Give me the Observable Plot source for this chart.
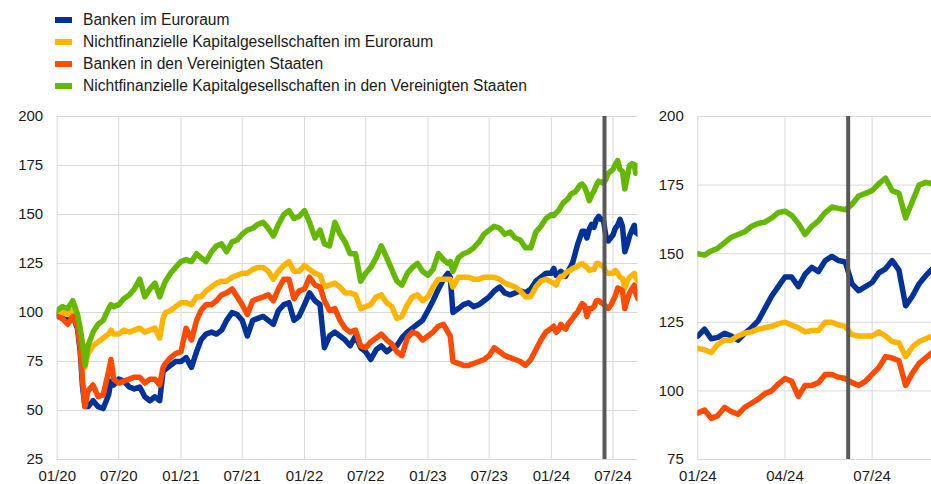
<!DOCTYPE html>
<html><head><meta charset="utf-8">
<script src="https://cdn.jsdelivr.net/npm/d3@7"></script>
<script src="https://cdn.jsdelivr.net/npm/@observablehq/plot@0.6"></script>
<style>
body{margin:0;background:#fff;font-family:Arial,"Liberation Sans",sans-serif;}
#wrap{position:relative;width:931px;height:484px;overflow:hidden;background:#fff;}
#legend{position:absolute;left:55px;top:8.5px;}
.row{height:22px;display:flex;align-items:center;font-size:15.6px;color:#1a1a1a;white-space:nowrap;}
.sw{width:17px;height:6px;margin-right:11px;flex:none;}
#left{position:absolute;left:0;top:100px;}
#right{position:absolute;left:645px;top:100px;}
</style></head><body>
<div id="wrap"><div id="legend"></div><div id="left"></div><div id="right"></div></div>
<script>
// ---- data ----
const seriesNames = [
  "Banken im Euroraum",
  "Nichtfinanzielle Kapitalgesellschaften im Euroraum",
  "Banken in den Vereinigten Staaten",
  "Nichtfinanzielle Kapitalgesellschaften in den Vereinigten Staaten"
];
const seriesColors = ["#003299", "#FFB400", "#FF4B00", "#65B800"];

const dates = [
  "2020-01-01","2020-01-16","2020-02-01","2020-02-16","2020-03-01","2020-03-09","2020-03-16","2020-03-23","2020-04-01","2020-04-16",
  "2020-05-01","2020-05-16","2020-06-01","2020-06-08","2020-06-16","2020-07-01","2020-07-16","2020-08-01","2020-08-16","2020-09-01",
  "2020-09-16","2020-10-01","2020-10-16","2020-10-30","2020-11-09","2020-11-16","2020-12-01","2020-12-16",
  "2021-01-01","2021-01-16","2021-02-01","2021-02-16","2021-03-01","2021-03-16","2021-04-01","2021-04-16","2021-05-01","2021-05-16",
  "2021-06-01","2021-06-16","2021-07-01","2021-07-16","2021-08-01","2021-08-16","2021-09-01","2021-09-16","2021-10-01","2021-10-16",
  "2021-11-01","2021-11-16","2021-12-01","2021-12-16",
  "2022-01-01","2022-01-16","2022-02-01","2022-02-16","2022-03-01","2022-03-16","2022-04-01","2022-04-16","2022-05-01","2022-05-16",
  "2022-06-01","2022-06-16","2022-07-01","2022-07-16","2022-08-01","2022-08-16","2022-09-01","2022-09-16","2022-10-01","2022-10-16",
  "2022-11-01","2022-11-16","2022-12-01","2022-12-16",
  "2023-01-01","2023-01-16","2023-02-01","2023-02-16","2023-03-01","2023-03-08","2023-03-16","2023-04-01","2023-04-16","2023-05-01",
  "2023-05-16","2023-06-01","2023-06-16","2023-07-01","2023-07-16","2023-08-01","2023-08-16","2023-09-01","2023-09-16","2023-10-01",
  "2023-10-16","2023-11-01","2023-11-16","2023-12-01","2023-12-16",
  "2024-01-01","2024-01-08","2024-01-15","2024-01-22","2024-01-29","2024-02-05","2024-02-12","2024-02-19","2024-02-26","2024-03-04",
  "2024-03-11","2024-03-18","2024-03-25","2024-04-01","2024-04-08","2024-04-15","2024-04-22","2024-04-29","2024-05-06","2024-05-13",
  "2024-05-20","2024-05-27","2024-06-03","2024-06-10","2024-06-17","2024-06-24","2024-07-01","2024-07-08","2024-07-15","2024-07-22",
  "2024-07-29","2024-08-05","2024-08-12","2024-08-19","2024-08-26","2024-09-02","2024-09-06","2024-09-13"
];

const banksEA = [
  99,97,96,98,92,80,62,52,52,55, 52,51,58,65,63,66,65,62,61,62, 57,55,57,55,70,71,73,75,
  75,77,72,80,86,89,90,89,91,96, 100,99,96,88,96,97,98,96,94,101, 104,105,96,98,
  104,110,106,104,82,88,90,88,86,83, 88,82,80,76,81,83,80,82,83,87, 90,92,94,96,
  101,106,112,117,120,118,100,102,104,105, 103,104,106,108,111,113,110,109,110,111, 110,112,116,118,120,
  120,122.5,119,119.5,121,120,118.5,121,123,125.5, 130,134.5,138,141.5,141.5,138,142.5,145,143.5,147.5,
  149,147.5,147,139,136.5,138,139.5,143,144.5,147.5, 144,131,134.5,139,142,144.5,141,140
];
const nfcEA = [
  100,100,99,101,96,88,78,72,79,83, 85,87,89,91,89,89,91,90,91,92, 90,91,92,87,97,100,101,103,
  105,105,104,108,108,111,113,115,116,116, 118,119,120,120,122,123,123,121,117,121, 124,126,121,121,
  124,122,120,119,113,114,115,113,110,110, 109,102,103,104,108,109,105,103,97,98, 104,108,109,106,
  108,113,117,117,117,117,113,118,118,118, 117,117,118,118,118,117,115,114,113,111, 108,108,113,116,117,
  115.5,115,114,117,118.5,118.5,120,121,121.5,122.5, 123,123.5,124.5,125,124,123,121.5,122,122,125,
  125,124,123.5,120.5,120,120,120,121.5,120,118, 117.5,112.5,116,118,119,120,118,116
];
const banksUS = [
  98,97,94,98,93,82,65,52,60,63, 57,58,70,76,66,64,65,66,67,67, 64,66,66,63,72,74,77,79,
  80,92,86,96,101,104,104,106,109,110, 112,108,104,99,106,107,108,109,106,112, 117,117,107,111,
  112,118,114,113,106,101,102,96,92,90, 91,83,82,85,87,89,86,84,80,78, 87,90,89,86,
  88,90,93,94,90,88,75,74,73,73, 74,75,76,78,82,80,78,77,76,75, 73,76,81,86,90,
  92,93,90,91,94,92.5,91.5,94,95.5,97, 99,100,102.5,104.5,103.5,98,102,102,103,106,
  106,105,104.5,103,102,103.5,106,108.5,112.5,112, 111,102,106.5,110,112,114,110,107
];
const nfcUS = [
  101,103,102,106,99,92,84,73,83,90, 94,96,102,104,103,104,107,109,112,117, 108,112,115,108,113,116,120,123,
  126,127,126,130,128,126,131,134,135,131, 136,137,140,142,143,145,146,143,139,145, 150,152,148,149,
  152,146,138,142,135,134,146,140,136,130, 130,116,120,123,128,134,128,122,116,114, 120,123,125,121,
  119,122,130,127,125,126,121,128,130,131, 133,136,140,142,144,143,140,141,138,137, 133,133,141,144,148,
  150,149.5,151,152,154,156,157,158,160,161, 161.5,163,165,165.5,164,161,157,160,162,165,
  167,166.5,166,168,171,172,173,175.5,177.5,173, 172,163,169,175,176,175.5,171,175
];

const leftXTicks = ["2020-01-01","2020-07-01","2021-01-01","2021-07-01","2022-01-01","2022-07-01","2023-01-01","2023-07-01","2024-01-01","2024-07-01"];
const rightXTicks = ["2024-01-01","2024-04-01","2024-07-01"];
const leftYTicks = [25, 50, 75, 100, 125, 150, 175, 200];
const rightYTicks = [75, 100, 125, 150, 175, 200];
const eventDate = "2024-06-06";
const leftDomain = ["2020-01-01", "2024-09-13"];
const rightDomain = ["2024-01-01", "2024-09-01"];

// ---- build ----
const parse = d3.utcParse("%Y-%m-%d");
const valueArrays = [banksEA, nfcEA, banksUS, nfcUS];
const rows = [];
seriesNames.forEach((name, s) => {
  dates.forEach((d, i) => rows.push({date: parse(d), value: valueArrays[s][i], series: name}));
});
const rightStart = parse(rightDomain[0]);
const rowsRight = rows.filter(r => r.date >= rightStart);

// legend
const legend = document.getElementById("legend");
seriesNames.forEach((n, i) => {
  const row = document.createElement("div"); row.className = "row";
  const sw = document.createElement("div"); sw.className = "sw"; sw.style.background = seriesColors[i];
  const t = document.createElement("span"); t.textContent = n;
  row.appendChild(sw); row.appendChild(t); legend.appendChild(row);
});

const gridColor = "#d9d9d9";
function panel({width, marginLeft, marginRight, xDomain, xTicks, yDomain, yTicks, data}) {
  const xt = xTicks.map(parse);
  return Plot.plot({
    width, height: 384,
    marginLeft, marginRight, marginTop: 16, marginBottom: 25,
    style: {fontFamily: "Arial, 'Liberation Sans', sans-serif", fontSize: "15px", color: "#1a1a1a", background: "white"},
    x: {type: "utc", domain: xDomain.map(parse), label: null},
    y: {domain: yDomain, label: null},
    color: {domain: seriesNames, range: seriesColors},
    marks: [
      Plot.gridY(yTicks, {stroke: gridColor, strokeOpacity: 1, strokeWidth: 1}),
      Plot.gridX(xt, {stroke: gridColor, strokeOpacity: 1, strokeWidth: 1}),
      Plot.axisY(yTicks, {tickSize: 0, tickPadding: 14, label: null}),
      Plot.axisX(xt, {tickSize: 0, tickPadding: 11, tickFormat: d3.utcFormat("%m/%y"), label: null}),
      Plot.lineY(data, {x: "date", y: "value", stroke: "series", z: "series", strokeWidth: 5.5, strokeLinejoin: "round", strokeLinecap: "round", clip: true}),
      Plot.ruleX([parse(eventDate)], {stroke: "#595959", strokeWidth: 4})
    ]
  });
}

document.getElementById("left").appendChild(panel({
  width: 645, marginLeft: 56.7, marginRight: 7.5,
  xDomain: leftDomain, xTicks: leftXTicks, yDomain: [25, 200], yTicks: leftYTicks, data: rows
}));
document.getElementById("right").appendChild(panel({
  width: 286, marginLeft: 52.3, marginRight: 0,
  xDomain: rightDomain, xTicks: rightXTicks, yDomain: [75, 200], yTicks: rightYTicks, data: rowsRight
}));
</script>
</body></html>
